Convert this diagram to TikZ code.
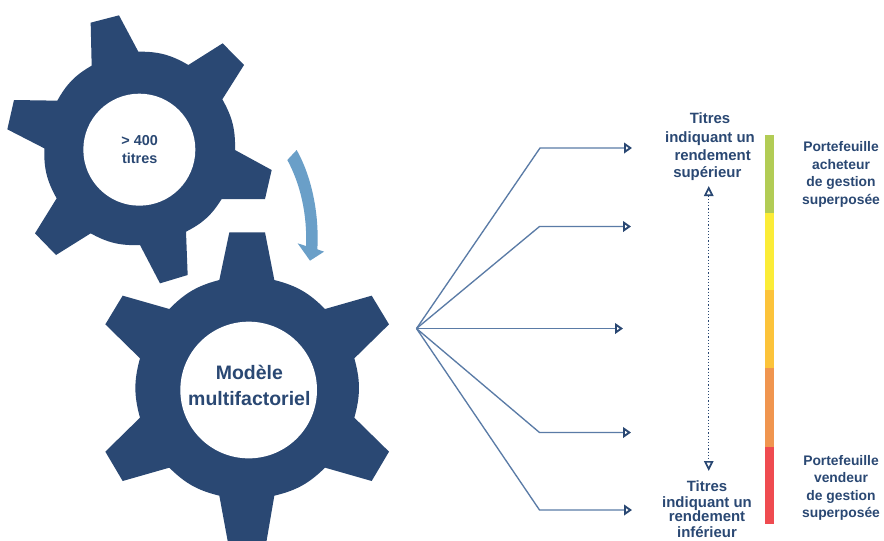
\documentclass[tikz,border=0pt]{standalone}
\usepackage{fontspec}
\setmainfont{Liberation Sans}
\usetikzlibrary{arrows.meta}
\definecolor{navy}{HTML}{2A4873}
\definecolor{linecol}{HTML}{5A7BA6}
\definecolor{arrowblue}{HTML}{6A9FC8}
\definecolor{barA}{HTML}{B2CC55}
\definecolor{barB}{HTML}{FBEC37}
\definecolor{barC}{HTML}{FCC33A}
\definecolor{barD}{HTML}{F0954F}
\definecolor{barE}{HTML}{EF4B50}
\tikzset{
  gearfill/.style={fill=navy,draw=none},
  hole/.style={circle,fill=white,draw=none,inner sep=0pt},
  valley/.style={bend left=15.5},
  branch/.style={draw=linecol,line width=1pt,-{Triangle[open,length=6pt,width=8pt,line width=1.4pt,color=navy]}},
  rangearrow/.style={draw=navy,line width=1.1pt,dash pattern=on 0.9pt off 1.5pt,{Triangle[open,length=7.5pt,width=7pt,line width=1.3pt,color=navy]}-{Triangle[open,length=7.5pt,width=7pt,line width=1.3pt,color=navy]}},
  lab/.style={text=navy,font=\bfseries\fontsize{11.2}{13}\selectfont,align=center,inner sep=0pt},
  side/.style={text=navy,font=\bfseries\fontsize{10.4}{13.1}\selectfont,align=center,inner sep=0pt}
}
\begin{document}
\begin{tikzpicture}[x=0.75pt,y=-0.75pt]
\useasboundingbox (0,0) rectangle (884,540);
\clip (0,0) rectangle (884,540);
\fill[white] (0,0) rectangle (884,540);
% upper gear (coordinates in 3x crop pixels)
\begin{scope}[x=0.25pt,y=-0.25pt]
\fill[gearfill] (275,197)--(272,68)--(357,46)--(415,155)
  to[valley] (565,195)--(668,130)--(732,195)--(667,298)
  to[valley] (705,450)--(815,510)--(795,597)--(665,597)
  to[valley] (558,695)--(563,825)--(480,850)--(420,735)
  to[valley] (272,700)--(168,765)--(105,700)--(170,595)
  to[valley] (133,445)--(22,388)--(42,300)--(172,302)
  to[valley] cycle;
\node[hole,minimum size=84pt] (g1) at (418,449) {};
\node[lab,font=\bfseries\fontsize{10.8}{13}\selectfont] (g1t) at (419,449) {> 400\\titres};
\end{scope}
% lower gear
\begin{scope}[shift={(90,225)},x=0.25pt,y=-0.25pt]
\fill[gearfill] (388,165)--(418,22)--(525,22)--(553,165)
  to[valley] (705,252)--(845,212)--(897,298)--(793,400)
  to[valley] (793,578)--(897,680)--(845,768)--(705,728)
  to[valley] (553,812)--(525,975)--(418,975)--(388,812)
  to[valley] (238,728)--(98,768)--(46,680)--(150,578)
  to[valley] (150,400)--(46,298)--(98,212)--(238,252)
  to[valley] cycle;
\node[hole,minimum size=102.5pt] (g2) at (476,495) {};
\node[lab,font=\bfseries\fontsize{14.6}{19.5}\selectfont] (g2t) at (478,480) {Modèle\\multifactoriel};
\end{scope}
% curved arrow
\begin{scope}[x=0.25pt,y=-0.25pt]
\fill[arrowblue] (890,450) .. controls (935,530) and (958,640) .. (952,748)
  -- (972,755) -- (930,782) -- (893,730) -- (918,738)
  .. controls (922,640) and (900,550) .. (862,480) -- cycle;
\end{scope}
% connectors
\coordinate (src) at (416.5,328.5);
\coordinate (e1) at (540,148);  \coordinate (t1) at (632,148);
\coordinate (e2) at (539.5,226.5); \coordinate (t2) at (631,226.5);
\coordinate (t3) at (623,328.5);
\coordinate (e4) at (539.5,432.5); \coordinate (t4) at (631,432.5);
\coordinate (e5) at (539.5,510);   \coordinate (t5) at (632,510);
\draw[branch] (src) -- (e1) -- (t1);
\draw[branch] (src) -- (e2) -- (t2);
\draw[branch] (src) -- (t3);
\draw[branch] (src) -- (e4) -- (t4);
\draw[branch] (src) -- (e5) -- (t5);
% range arrow
\coordinate (up) at (708.7,186);
\coordinate (dn) at (708.7,471);
\draw[rangearrow] (up) -- (dn);
% colour bar
\fill[barA] (764.5,134.5) rectangle (774,212.7);
\fill[barB] (764.5,212.7) rectangle (774,290);
\fill[barC] (764.5,290) rectangle (774,368.3);
\fill[barD] (764.5,368.3) rectangle (774,446.7);
\fill[barE] (764.5,446.7) rectangle (774,524);
% labels
\node[lab] (top) at (710,146.5) {Titres\\[1.5pt]indiquant un\\\hspace*{4pt}rendement\\supérieur\hspace*{4pt}};
\node[lab] (bot) at (707,509) {Titres\\[-0.5pt]indiquant un\\[-2.5pt]rendement\\[-1pt]inférieur};
\node[side] (acht) at (841,174.5) {Portefeuille\\acheteur\\de gestion\\superposée};
\node[side] (vend) at (841,488) {Portefeuille\\vendeur\\de gestion\\superposée};
\end{tikzpicture}
\end{document}
